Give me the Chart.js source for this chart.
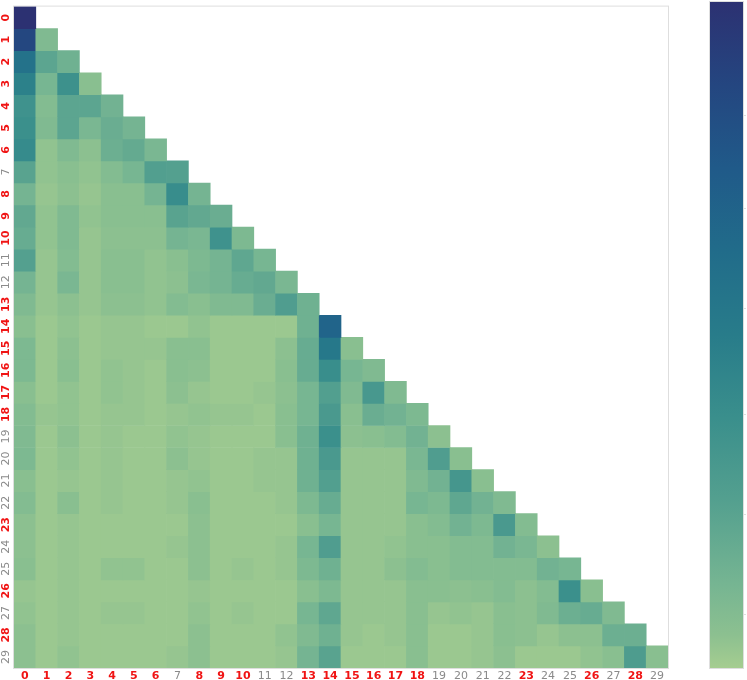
<!DOCTYPE html>
<html>
<head>
<meta charset="utf-8">
<script src="https://cdn.jsdelivr.net/npm/chart.js@4.4.1/dist/chart.umd.min.js"></script>
<style>
  body { margin: 0; background: #fff; }
  #wrap { position: relative; width: 747px; height: 680px; }
  #heat { position: absolute; left: 0; top: 0; }
  #cbar { position: absolute; left: 670px; top: 0; }
</style>
</head>
<body>
<div id="wrap">
  <canvas id="heat" width="670" height="680"></canvas>
  <canvas id="cbar" width="77" height="680"></canvas>
</div>
<script>
// labels 0..29, red ones are highlighted
const labels = ['0','1','2','3','4','5','6','7','8','9','10','11','12','13','14','15','16','17','18','19','20','21','22','23','24','25','26','27','28','29'];
const highlighted = [0, 1, 2, 3, 4, 5, 6, 8, 9, 10, 13, 14, 15, 16, 17, 18, 23, 26, 28];

// lower triangle, row r has r+1 values (0 = light, 1 = dark)
const rows = [
  [1.00],
  [0.87, 0.09],
  [0.58, 0.22, 0.15],
  [0.47, 0.12, 0.36, 0.06],
  [0.35, 0.08, 0.22, 0.22, 0.14],
  [0.37, 0.09, 0.22, 0.11, 0.17, 0.13],
  [0.40, 0.04, 0.09, 0.05, 0.16, 0.19, 0.11],
  [0.23, 0.04, 0.06, 0.04, 0.08, 0.12, 0.26, 0.25],
  [0.13, 0.03, 0.05, 0.03, 0.06, 0.06, 0.13, 0.39, 0.13],
  [0.20, 0.04, 0.09, 0.04, 0.06, 0.06, 0.06, 0.23, 0.20, 0.17],
  [0.18, 0.04, 0.09, 0.03, 0.05, 0.05, 0.05, 0.13, 0.11, 0.35, 0.10],
  [0.25, 0.03, 0.08, 0.03, 0.06, 0.06, 0.04, 0.06, 0.10, 0.13, 0.21, 0.12],
  [0.13, 0.03, 0.11, 0.03, 0.06, 0.06, 0.04, 0.05, 0.11, 0.13, 0.18, 0.20, 0.11],
  [0.09, 0.03, 0.05, 0.03, 0.05, 0.05, 0.04, 0.08, 0.06, 0.09, 0.09, 0.17, 0.27, 0.15],
  [0.06, 0.02, 0.04, 0.02, 0.03, 0.03, 0.02, 0.02, 0.04, 0.02, 0.02, 0.02, 0.02, 0.15, 0.68],
  [0.10, 0.02, 0.05, 0.02, 0.03, 0.03, 0.03, 0.06, 0.06, 0.02, 0.02, 0.02, 0.05, 0.18, 0.53, 0.06],
  [0.10, 0.02, 0.06, 0.02, 0.04, 0.03, 0.02, 0.06, 0.05, 0.02, 0.02, 0.02, 0.06, 0.18, 0.38, 0.12, 0.09],
  [0.06, 0.02, 0.04, 0.02, 0.04, 0.03, 0.02, 0.05, 0.03, 0.02, 0.02, 0.03, 0.05, 0.12, 0.26, 0.09, 0.31, 0.09],
  [0.08, 0.03, 0.04, 0.02, 0.03, 0.03, 0.02, 0.03, 0.04, 0.03, 0.03, 0.02, 0.06, 0.12, 0.30, 0.06, 0.17, 0.14, 0.10],
  [0.09, 0.02, 0.05, 0.02, 0.03, 0.02, 0.02, 0.04, 0.03, 0.02, 0.02, 0.02, 0.06, 0.15, 0.37, 0.05, 0.06, 0.08, 0.14, 0.05],
  [0.10, 0.02, 0.04, 0.02, 0.03, 0.02, 0.02, 0.05, 0.03, 0.02, 0.02, 0.03, 0.03, 0.15, 0.30, 0.03, 0.03, 0.03, 0.11, 0.27, 0.06],
  [0.06, 0.02, 0.03, 0.02, 0.03, 0.02, 0.02, 0.03, 0.04, 0.02, 0.02, 0.03, 0.03, 0.15, 0.26, 0.03, 0.03, 0.03, 0.09, 0.14, 0.32, 0.06],
  [0.08, 0.02, 0.06, 0.02, 0.03, 0.02, 0.02, 0.03, 0.06, 0.02, 0.02, 0.02, 0.03, 0.10, 0.18, 0.03, 0.03, 0.03, 0.12, 0.10, 0.21, 0.14, 0.09],
  [0.05, 0.02, 0.03, 0.02, 0.02, 0.02, 0.02, 0.02, 0.05, 0.02, 0.02, 0.02, 0.02, 0.06, 0.12, 0.03, 0.03, 0.03, 0.06, 0.08, 0.14, 0.10, 0.30, 0.08],
  [0.05, 0.02, 0.03, 0.02, 0.02, 0.02, 0.02, 0.03, 0.05, 0.02, 0.02, 0.02, 0.03, 0.12, 0.27, 0.03, 0.03, 0.04, 0.06, 0.06, 0.08, 0.08, 0.14, 0.11, 0.05],
  [0.06, 0.02, 0.03, 0.02, 0.04, 0.04, 0.02, 0.02, 0.05, 0.02, 0.03, 0.02, 0.03, 0.10, 0.15, 0.03, 0.03, 0.05, 0.08, 0.06, 0.08, 0.08, 0.08, 0.08, 0.14, 0.12],
  [0.03, 0.02, 0.03, 0.02, 0.02, 0.02, 0.02, 0.02, 0.03, 0.02, 0.02, 0.02, 0.02, 0.06, 0.10, 0.03, 0.03, 0.03, 0.06, 0.06, 0.05, 0.06, 0.08, 0.05, 0.08, 0.37, 0.06],
  [0.04, 0.02, 0.03, 0.02, 0.03, 0.03, 0.02, 0.02, 0.04, 0.02, 0.03, 0.02, 0.02, 0.12, 0.21, 0.03, 0.03, 0.03, 0.06, 0.03, 0.04, 0.03, 0.06, 0.05, 0.09, 0.16, 0.18, 0.09],
  [0.05, 0.02, 0.03, 0.02, 0.02, 0.02, 0.02, 0.02, 0.05, 0.02, 0.02, 0.02, 0.04, 0.09, 0.15, 0.03, 0.02, 0.03, 0.06, 0.02, 0.02, 0.03, 0.06, 0.05, 0.03, 0.05, 0.05, 0.16, 0.16],
  [0.05, 0.02, 0.04, 0.02, 0.02, 0.02, 0.02, 0.03, 0.05, 0.02, 0.02, 0.02, 0.03, 0.13, 0.23, 0.02, 0.02, 0.02, 0.06, 0.02, 0.02, 0.03, 0.05, 0.02, 0.02, 0.02, 0.04, 0.06, 0.28, 0.06]
];

// colorbar tick values
const cbTicks = [0.08, 0.23, 0.38, 0.54, 0.69, 0.83];

// crest-like colour stops [value, r, g, b]
const stops = [
  [0.0, 165, 205, 144],
  [0.05, 140, 192, 144],
  [0.125, 118, 181, 146],
  [0.25, 84, 160, 143],
  [0.375, 58, 143, 140],
  [0.5, 40, 124, 138],
  [0.625, 33, 108, 138],
  [0.75, 32, 90, 137],
  [0.875, 36, 70, 128],
  [1.0, 44, 49, 114]
];

function crest(v) {
  v = Math.max(0, Math.min(1, v));
  for (let i = 1; i < stops.length; i++) {
    if (v <= stops[i][0]) {
      const a = stops[i - 1], b = stops[i];
      const t = (v - a[0]) / (b[0] - a[0]);
      const c = [1, 2, 3].map(k => Math.round(a[k] + (b[k] - a[k]) * t));
      return `rgb(${c[0]},${c[1]},${c[2]})`;
    }
  }
  return 'rgb(44,49,114)';
}

const FONT = 'DejaVu Sans';
const isRed = i => highlighted.includes(i);
const tickColor = ctx => isRed(ctx.index) ? '#f01414' : '#8a8a8a';
const tickFont = ctx => ({ family: FONT, size: 11, weight: isRed(ctx.index) ? 'bold' : 'normal' });

// light frame round the plot area
const frame = {
  id: 'frame',
  beforeDatasetsDraw(chart) {
    const { ctx, chartArea: a } = chart;
    ctx.save();
    ctx.strokeStyle = '#dedede';
    ctx.lineWidth = 1;
    ctx.strokeRect(a.left - 0.5, a.top - 0.5, a.right - a.left + 1, a.bottom - a.top + 1);
    ctx.restore();
  }
};

// one dataset per row, each cell is a floating bar [r, r+1]
const datasets = rows.map((vals, r) => ({
  label: labels[r],
  data: labels.map((_, c) => c <= r ? [r, r + 1] : null),
  backgroundColor: labels.map((_, c) => c <= r ? crest(vals[c]) : 'rgba(0,0,0,0)'),
  borderWidth: 0,
  barPercentage: 1,
  categoryPercentage: 1,
  grouped: false
}));

new Chart(document.getElementById('heat'), {
  type: 'bar',
  data: { labels: labels, datasets: datasets },
  plugins: [frame],
  options: {
    responsive: false,
    animation: false,
    layout: { padding: { top: 2, right: 2, left: 0, bottom: 0 } },
    plugins: { legend: { display: false }, tooltip: { enabled: false } },
    scales: {
      x: {
        grid: { display: false, drawTicks: false },
        border: { display: false },
        ticks: { color: tickColor, font: tickFont, padding: 2, maxRotation: 0, autoSkip: false },
        afterFit: s => { s.height = 12; }
      },
      y: {
        type: 'linear',
        min: 0,
        max: 30,
        reverse: true,
        grid: { display: false, drawTicks: false },
        border: { display: false },
        afterBuildTicks: s => { s.ticks = labels.map((_, r) => ({ value: r + 0.5 })); },
        ticks: {
          color: tickColor,
          font: tickFont,
          padding: 0,
          minRotation: 90,
          maxRotation: 90,
          crossAlign: 'center',
          autoSkip: false,
          callback: (v, i) => labels[i]
        },
        afterFit: s => { s.width = 14; }
      }
    }
  }
});

// colorbar: a single floating bar filled with the colour ramp
new Chart(document.getElementById('cbar'), {
  type: 'bar',
  data: {
    labels: [''],
    datasets: [{
      data: [[0, 1]],
      borderWidth: 0,
      barPercentage: 1,
      categoryPercentage: 1,
      backgroundColor: ctx => {
        const a = ctx.chart.chartArea;
        if (!a) return null;
        const g = ctx.chart.ctx.createLinearGradient(0, a.bottom, 0, a.top);
        stops.forEach(s => g.addColorStop(s[0], `rgb(${s[1]},${s[2]},${s[3]})`));
        return g;
      }
    }]
  },
  plugins: [frame],
  options: {
    responsive: false,
    animation: false,
    layout: { padding: { top: 2, right: 0, left: 40, bottom: 12 } },
    plugins: { legend: { display: false }, tooltip: { enabled: false } },
    scales: {
      x: { display: false },
      y: {
        position: 'right',
        min: 0,
        max: 1,
        grid: { drawOnChartArea: false, drawTicks: true, tickLength: 3, color: '#e0e0e0' },
        border: { display: false },
        afterBuildTicks: s => { s.ticks = cbTicks.map(v => ({ value: v })); },
        ticks: { display: false },
        afterFit: s => { s.width = 4; }
      }
    }
  }
});
</script>
</body>
</html>
